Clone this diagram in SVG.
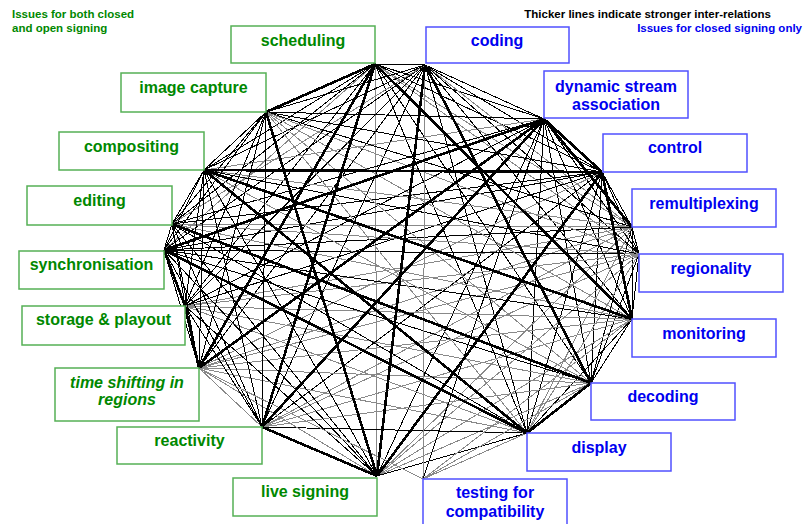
<svg xmlns="http://www.w3.org/2000/svg" width="810" height="524" viewBox="0 0 810 524">
<style>
text{font-family:"Liberation Sans",Arial,sans-serif;font-weight:bold}
.lab{font-size:16px;text-anchor:middle}
.leg{font-size:11.5px}
.g rect{fill:#fff;stroke:#55b055;stroke-width:1.5}
.b rect{fill:#fff;stroke:#5050ff;stroke-width:1.5}
.g text{fill:#008800}
.b text{fill:#0000f0}
#connectors line{shape-rendering:crispEdges}
.w{stroke:#888;stroke-width:1}
.m{stroke:#000;stroke-width:1}
.t{stroke:#000;stroke-width:2.6}
</style>
<rect width="810" height="524" fill="#fff"/>
<g id="legend">
<text class="leg" x="12" y="18" fill="#008800">Issues for both closed</text>
<text class="leg" x="12" y="32" fill="#008800">and open signing</text>
<text class="leg" x="771" y="18" fill="#000" text-anchor="end">Thicker lines indicate stronger inter-relations</text>
<text class="leg" x="802" y="32" fill="#0000f0" text-anchor="end">Issues for closed signing only</text>
</g>
<g id="connectors">
<line class="m" x1="375" y1="64" x2="425" y2="65"/>
<line class="m" x1="375" y1="64" x2="544" y2="119"/>
<line class="m" x1="375" y1="64" x2="602" y2="172"/>
<line class="w" x1="375" y1="64" x2="632" y2="227"/>
<line class="w" x1="375" y1="64" x2="639" y2="254"/>
<line class="m" x1="375" y1="64" x2="591" y2="383"/>
<line class="m" x1="375" y1="64" x2="527" y2="433"/>
<line class="w" x1="375" y1="64" x2="377" y2="476"/>
<line class="m" x1="375" y1="64" x2="185" y2="306"/>
<line class="w" x1="375" y1="64" x2="164" y2="250"/>
<line class="m" x1="375" y1="64" x2="172" y2="224"/>
<line class="m" x1="375" y1="64" x2="204" y2="170"/>
<line class="m" x1="425" y1="65" x2="544" y2="119"/>
<line class="m" x1="425" y1="65" x2="602" y2="172"/>
<line class="w" x1="425" y1="65" x2="632" y2="227"/>
<line class="m" x1="425" y1="65" x2="639" y2="254"/>
<line class="m" x1="425" y1="65" x2="632" y2="319"/>
<line class="m" x1="425" y1="65" x2="527" y2="433"/>
<line class="m" x1="425" y1="65" x2="262" y2="427"/>
<line class="m" x1="425" y1="65" x2="199" y2="368"/>
<line class="m" x1="425" y1="65" x2="185" y2="306"/>
<line class="m" x1="425" y1="65" x2="164" y2="250"/>
<line class="w" x1="425" y1="65" x2="172" y2="224"/>
<line class="m" x1="425" y1="65" x2="204" y2="170"/>
<line class="m" x1="425" y1="65" x2="266" y2="112"/>
<line class="m" x1="544" y1="119" x2="639" y2="254"/>
<line class="m" x1="544" y1="119" x2="632" y2="319"/>
<line class="m" x1="544" y1="119" x2="591" y2="383"/>
<line class="m" x1="544" y1="119" x2="527" y2="433"/>
<line class="m" x1="544" y1="119" x2="377" y2="476"/>
<line class="m" x1="544" y1="119" x2="185" y2="306"/>
<line class="m" x1="544" y1="119" x2="172" y2="224"/>
<line class="w" x1="544" y1="119" x2="204" y2="170"/>
<line class="m" x1="544" y1="119" x2="266" y2="112"/>
<line class="m" x1="602" y1="172" x2="632" y2="227"/>
<line class="m" x1="602" y1="172" x2="639" y2="254"/>
<line class="m" x1="602" y1="172" x2="591" y2="383"/>
<line class="m" x1="602" y1="172" x2="527" y2="433"/>
<line class="m" x1="602" y1="172" x2="262" y2="427"/>
<line class="w" x1="602" y1="172" x2="199" y2="368"/>
<line class="m" x1="602" y1="172" x2="185" y2="306"/>
<line class="m" x1="602" y1="172" x2="164" y2="250"/>
<line class="m" x1="602" y1="172" x2="172" y2="224"/>
<line class="m" x1="602" y1="172" x2="266" y2="112"/>
<line class="m" x1="632" y1="227" x2="639" y2="254"/>
<line class="m" x1="632" y1="227" x2="632" y2="319"/>
<line class="m" x1="632" y1="227" x2="591" y2="383"/>
<line class="w" x1="632" y1="227" x2="527" y2="433"/>
<line class="w" x1="632" y1="227" x2="377" y2="476"/>
<line class="w" x1="632" y1="227" x2="262" y2="427"/>
<line class="w" x1="632" y1="227" x2="199" y2="368"/>
<line class="w" x1="632" y1="227" x2="185" y2="306"/>
<line class="m" x1="632" y1="227" x2="164" y2="250"/>
<line class="w" x1="632" y1="227" x2="172" y2="224"/>
<line class="w" x1="632" y1="227" x2="204" y2="170"/>
<line class="m" x1="632" y1="227" x2="266" y2="112"/>
<line class="m" x1="639" y1="254" x2="632" y2="319"/>
<line class="m" x1="639" y1="254" x2="591" y2="383"/>
<line class="w" x1="639" y1="254" x2="527" y2="433"/>
<line class="w" x1="639" y1="254" x2="377" y2="476"/>
<line class="w" x1="639" y1="254" x2="262" y2="427"/>
<line class="w" x1="639" y1="254" x2="199" y2="368"/>
<line class="w" x1="639" y1="254" x2="185" y2="306"/>
<line class="m" x1="639" y1="254" x2="164" y2="250"/>
<line class="w" x1="639" y1="254" x2="172" y2="224"/>
<line class="m" x1="639" y1="254" x2="204" y2="170"/>
<line class="w" x1="639" y1="254" x2="266" y2="112"/>
<line class="m" x1="632" y1="319" x2="591" y2="383"/>
<line class="m" x1="632" y1="319" x2="527" y2="433"/>
<line class="w" x1="632" y1="319" x2="377" y2="476"/>
<line class="w" x1="632" y1="319" x2="262" y2="427"/>
<line class="w" x1="632" y1="319" x2="199" y2="368"/>
<line class="w" x1="632" y1="319" x2="185" y2="306"/>
<line class="m" x1="632" y1="319" x2="164" y2="250"/>
<line class="w" x1="632" y1="319" x2="172" y2="224"/>
<line class="w" x1="632" y1="319" x2="266" y2="112"/>
<line class="w" x1="591" y1="383" x2="377" y2="476"/>
<line class="w" x1="591" y1="383" x2="262" y2="427"/>
<line class="w" x1="591" y1="383" x2="199" y2="368"/>
<line class="w" x1="591" y1="383" x2="185" y2="306"/>
<line class="m" x1="591" y1="383" x2="164" y2="250"/>
<line class="w" x1="591" y1="383" x2="204" y2="170"/>
<line class="w" x1="591" y1="383" x2="266" y2="112"/>
<line class="m" x1="527" y1="433" x2="377" y2="476"/>
<line class="m" x1="527" y1="433" x2="262" y2="427"/>
<line class="w" x1="527" y1="433" x2="199" y2="368"/>
<line class="w" x1="527" y1="433" x2="185" y2="306"/>
<line class="m" x1="527" y1="433" x2="172" y2="224"/>
<line class="w" x1="527" y1="433" x2="266" y2="112"/>
<line class="w" x1="377" y1="476" x2="199" y2="368"/>
<line class="m" x1="377" y1="476" x2="185" y2="306"/>
<line class="m" x1="377" y1="476" x2="164" y2="250"/>
<line class="m" x1="377" y1="476" x2="172" y2="224"/>
<line class="m" x1="377" y1="476" x2="204" y2="170"/>
<line class="w" x1="262" y1="427" x2="199" y2="368"/>
<line class="m" x1="262" y1="427" x2="185" y2="306"/>
<line class="m" x1="262" y1="427" x2="164" y2="250"/>
<line class="m" x1="262" y1="427" x2="172" y2="224"/>
<line class="m" x1="262" y1="427" x2="204" y2="170"/>
<line class="m" x1="262" y1="427" x2="266" y2="112"/>
<line class="m" x1="199" y1="368" x2="164" y2="250"/>
<line class="m" x1="199" y1="368" x2="172" y2="224"/>
<line class="m" x1="199" y1="368" x2="204" y2="170"/>
<line class="m" x1="199" y1="368" x2="266" y2="112"/>
<line class="m" x1="185" y1="306" x2="172" y2="224"/>
<line class="m" x1="185" y1="306" x2="204" y2="170"/>
<line class="m" x1="185" y1="306" x2="266" y2="112"/>
<line class="m" x1="164" y1="250" x2="172" y2="224"/>
<line class="m" x1="164" y1="250" x2="204" y2="170"/>
<line class="m" x1="164" y1="250" x2="266" y2="112"/>
<line class="m" x1="172" y1="224" x2="204" y2="170"/>
<line class="m" x1="172" y1="224" x2="266" y2="112"/>
<line class="m" x1="204" y1="170" x2="266" y2="112"/>
<line class="m" x1="423" y1="479" x2="544" y2="119"/>
<line class="w" x1="423" y1="479" x2="425" y2="65"/>
<line class="w" x1="423" y1="479" x2="527" y2="433"/>
<line class="w" x1="423" y1="479" x2="591" y2="383"/>
<line class="w" x1="423" y1="479" x2="632" y2="319"/>
<line class="w" x1="423" y1="479" x2="199" y2="368"/>
<line class="t" x1="375" y1="64" x2="632" y2="319"/>
<line class="t" x1="375" y1="64" x2="262" y2="427"/>
<line class="t" x1="375" y1="64" x2="199" y2="368"/>
<line class="t" x1="375" y1="64" x2="266" y2="112"/>
<line class="t" x1="425" y1="65" x2="591" y2="383"/>
<line class="t" x1="425" y1="65" x2="377" y2="476"/>
<line class="t" x1="544" y1="119" x2="602" y2="172"/>
<line class="t" x1="544" y1="119" x2="632" y2="227"/>
<line class="t" x1="544" y1="119" x2="262" y2="427"/>
<line class="t" x1="544" y1="119" x2="199" y2="368"/>
<line class="t" x1="544" y1="119" x2="164" y2="250"/>
<line class="t" x1="602" y1="172" x2="632" y2="319"/>
<line class="t" x1="602" y1="172" x2="377" y2="476"/>
<line class="t" x1="602" y1="172" x2="204" y2="170"/>
<line class="t" x1="632" y1="319" x2="204" y2="170"/>
<line class="t" x1="591" y1="383" x2="527" y2="433"/>
<line class="t" x1="591" y1="383" x2="172" y2="224"/>
<line class="t" x1="527" y1="433" x2="164" y2="250"/>
<line class="t" x1="527" y1="433" x2="204" y2="170"/>
<line class="t" x1="377" y1="476" x2="262" y2="427"/>
<line class="t" x1="377" y1="476" x2="266" y2="112"/>
<line class="t" x1="199" y1="368" x2="185" y2="306"/>
<line class="t" x1="185" y1="306" x2="164" y2="250"/>
</g>
<g id="n-scheduling" class="g"><rect x="231" y="26" width="144" height="37"/><text class="lab" x="303" y="46">scheduling</text></g>
<g id="n-coding" class="b"><rect x="426" y="27" width="143" height="36"/><text class="lab" x="497" y="46">coding</text></g>
<g id="n-dynamic" class="b"><rect x="544" y="71" width="144" height="47"/><text class="lab" x="616" y="92">dynamic stream</text><text class="lab" x="616" y="110">association</text></g>
<g id="n-control" class="b"><rect x="603" y="134" width="144" height="38"/><text class="lab" x="675" y="153">control</text></g>
<g id="n-remultiplexing" class="b"><rect x="632" y="189" width="144" height="38"/><text class="lab" x="704" y="209">remultiplexing</text></g>
<g id="n-regionality" class="b"><rect x="639" y="254" width="144" height="38"/><text class="lab" x="711" y="274">regionality</text></g>
<g id="n-monitoring" class="b"><rect x="632" y="319" width="144" height="38"/><text class="lab" x="704" y="339">monitoring</text></g>
<g id="n-decoding" class="b"><rect x="591" y="383" width="144" height="37"/><text class="lab" x="663" y="402">decoding</text></g>
<g id="n-display" class="b"><rect x="527" y="433" width="144" height="38"/><text class="lab" x="599" y="453">display</text></g>
<g id="n-testing" class="b"><rect x="423" y="479" width="144" height="50"/><text class="lab" x="495" y="498">testing for</text><text class="lab" x="495" y="517">compatibility</text></g>
<g id="n-live" class="g"><rect x="233" y="478" width="144" height="38"/><text class="lab" x="305" y="497">live signing</text></g>
<g id="n-reactivity" class="g"><rect x="117" y="427" width="145" height="37"/><text class="lab" x="189.5" y="446">reactivity</text></g>
<g id="n-timeshift" class="g"><rect x="55" y="368" width="144" height="53"/><text class="lab" x="127" y="388" font-style="italic">time shifting in</text><text class="lab" x="127" y="405" font-style="italic">regions</text></g>
<g id="n-storage" class="g"><rect x="22" y="306" width="163" height="39"/><text class="lab" x="103.5" y="325">storage &amp; playout</text></g>
<g id="n-sync" class="g"><rect x="19" y="251" width="145" height="38"/><text class="lab" x="91.5" y="270">synchronisation</text></g>
<g id="n-editing" class="g"><rect x="27" y="186" width="145" height="39"/><text class="lab" x="99.5" y="206">editing</text></g>
<g id="n-compositing" class="g"><rect x="59" y="132" width="145" height="38"/><text class="lab" x="131.5" y="152">compositing</text></g>
<g id="n-capture" class="g"><rect x="121" y="73" width="145" height="39"/><text class="lab" x="193.5" y="93">image capture</text></g>
</svg>
